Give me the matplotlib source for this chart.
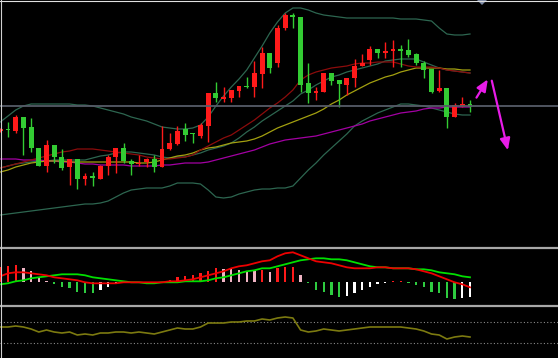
import numpy as np
import matplotlib
matplotlib.use("Agg")
import matplotlib.pyplot as plt
from matplotlib.lines import Line2D
from matplotlib.patches import Polygon

# ---- candle data (price units) ----
opens = [119, 121, 119, 133, 123, 102, 84, 105, 93, 83,
         91, 71, 74, 71, 84, 93, 102, 89, 86, 88,
         91, 83, 101, 106, 121, 117, 114, 124, 157, 151,
         152, 159, 164, 163, 176, 197, 187, 222, 235, 233,
         167, 157, 158, 177, 170, 165, 172, 184, 190, 201,
         197, 199, 201, 200, 196, 187, 181, 159, 162, 133,
         143, 146]
closes = [121, 120, 133, 122, 102, 84, 105, 93, 82, 91,
          71, 74, 72, 84, 93, 102, 89, 86, 87, 91,
          83, 101, 107, 119, 115, 116, 125, 157, 152, 153,
          160, 164, 163, 177, 197, 182, 222, 235, 233, 165,
          157, 159, 177, 169, 166, 172, 184, 187, 201, 197,
          199, 201, 199, 195, 187, 180, 158, 162, 133, 145,
          146, 143]
highs = [122, 128, 135, 133, 132, 102, 110, 105, 101, 91,
         91, 77, 78, 85, 95, 102, 107, 91, 95, 92,
         95, 124, 117, 124, 127, 117, 127, 157, 168, 163,
         160, 164, 173, 189, 203, 197, 225, 237, 237, 233,
         187, 163, 177, 177, 170, 172, 191, 196, 204, 201,
         208, 210, 205, 211, 197, 189, 181, 180, 162, 147,
         153, 150]
lows = [118, 113, 117, 95, 98, 84, 78, 87, 80, 65,
        61, 65, 64, 71, 75, 77, 87, 75, 84, 83,
        78, 83, 100, 105, 109, 107, 112, 108, 148, 148,
        148, 153, 162, 153, 162, 177, 183, 220, 222, 158,
        147, 150, 158, 165, 143, 155, 163, 184, 185, 192,
        192, 183, 183, 193, 185, 172, 157, 158, 122, 133,
        143, 138]

# ---- bollinger bands ----
boll_upper = [128, 134, 140, 144, 146, 146, 146, 146, 146, 146,
              145, 145, 144, 142, 140, 138, 136, 133, 131, 129,
              126, 123, 122, 121, 121, 122, 125, 133, 144, 154,
              163, 171, 180, 192, 204, 217, 228, 237, 242, 242,
              240, 237, 235, 234, 233, 232, 232, 232, 232, 232,
              232, 232, 231, 231, 231, 230, 229, 222, 216, 215,
              215, 216]
boll_mid = [82, 84, 86, 87, 88, 89, 89, 90, 90, 90,
            90, 90, 92, 94, 95, 97, 98, 98, 97, 96,
            95, 93, 92, 93, 93, 95, 97, 100, 102, 104,
            107, 112, 118, 123, 129, 134, 139, 144, 149, 156,
            160, 165, 169, 173, 175, 178, 180, 182, 184, 186,
            189, 190, 191, 191, 191, 188, 185, 182, 180, 179,
            178, 177]
boll_lower = [35, 36, 37, 38, 39, 40, 41, 42, 43, 44,
              45, 46, 46, 47, 49, 53, 57, 60, 61, 62,
              62, 62, 64, 67, 67, 67, 66, 60, 53, 52,
              53, 56, 58, 60, 61, 61, 62, 62, 64, 72,
              80, 87, 95, 102, 109, 116, 124, 129, 133, 137,
              140, 143, 146, 146, 145, 144, 142, 140, 138, 136,
              135, 135]

# ---- moving averages ----
ma_red = [82, 84, 86, 88, 90, 92, 94, 96, 98, 99,
          101, 101, 101, 100, 99, 98, 97, 96, 95, 93,
          92, 91, 91, 92, 93, 95, 100, 104, 108, 112,
          115, 120, 125, 130, 136, 142, 147, 153, 160, 170,
          175, 178, 180, 182, 183, 184, 186, 187, 187, 188,
          188, 188, 186, 184, 183, 183, 183, 182, 180, 179,
          178, 177]
ma_yellow = [78, 80, 83, 85, 87, 88, 89, 89, 89, 88,
             88, 88, 88, 88, 88, 88, 88, 88, 87, 87,
             88, 90, 92, 94, 95, 97, 100, 102, 103, 105,
             107, 108, 109, 111, 114, 118, 122, 125, 128, 131,
             134, 137, 141, 146, 150, 155, 159, 163, 167, 170,
             173, 175, 178, 180, 182, 182, 182, 182, 181, 181,
             180, 180]
ma_magenta = [91, 91, 91, 90, 90, 90, 89, 89, 88, 88,
              87, 86, 86, 85, 85, 85, 85, 84, 84, 84,
              84, 85, 85, 86, 87, 87, 87, 88, 90, 92,
              94, 96, 98, 100, 103, 106, 108, 110, 111, 112,
              113, 114, 116, 118, 120, 122, 124, 126, 129, 131,
              133, 135, 137, 138, 139, 141, 142, 142, 143, 143,
              143, 143]
ref_level = 144

# ---- MACD ----
macd_hist = [15, 16, 17, 14, 11, 5, 1, -2, -5, -6,
             -10, -10.5, -11, -8, -5, -2, -1, -0.5, 0, 0,
             0, 0, 2, 5, 6, 7, 9, 11, 14, 13.5,
             13, 12, 11.5, 11, 12, 10, 14, 15, 15.5, 7,
             -1, -8, -10, -13, -15, -14, -11, -8, -5, -2,
             -1, 1, 1.2, -1, -3, -5, -10, -11, -16, -17,
             -16, -15]
macd_dif = [6, 9, 10, 10, 9, 8, 7, 5, 4, 3,
            2, 0, -1, -1, -1, -1, 0, 0, 0, 0,
            0, 0, 1, 1, 2, 3, 5, 7, 9, 11,
            14, 16, 17, 19, 21, 22, 26, 29, 30, 27,
            24, 21, 20, 19, 17, 15, 14, 14, 14, 15,
            15, 14, 14, 14, 13, 11, 9, 6, 3, 0,
            -2, -5]
macd_dea = [-2, -1, 1, 2, 4, 5, 6, 7, 8, 8,
            8, 7, 5, 4, 3, 2, 1, 0, 0, -1,
            -1, 0, 0, 0, 1, 1, 1, 2, 4, 5,
            7, 9, 11, 12, 14, 14, 16, 18, 20, 22,
            23, 24, 24, 23, 23, 22, 20, 18, 16, 15,
            15, 14, 14, 14, 13, 13, 12, 10, 9, 8,
            6, 5]

# ---- lower oscillator ----
osc = [31, 31, 32, 31, 29, 26, 28, 26, 25, 26,
       23, 24, 23, 25, 25, 26, 26, 25, 26, 25,
       24, 26, 28, 30, 29, 29, 31, 35, 35, 35,
       36, 36, 37, 37, 39, 38, 40, 41, 40, 28,
       26, 27, 29, 28, 27, 28, 29, 30, 31, 31,
       31, 31, 31, 30, 29, 27, 24, 23, 19, 21,
       22, 21]
osc_levels = [36, 15]

UP = "#ff1a1a"
DOWN = "#33cc33"
BOLL = "#2d6650"

W, H = 558, 358
fig = plt.figure(figsize=(W / 100, H / 100), dpi=100, facecolor="black")

x = np.arange(len(opens))
xlim = (-0.3 / 7.7, (W - 0.3) / 7.7)

# main price panel
ax = fig.add_axes([0, (H - 246) / H, 1, 246 / H])
ax.set_facecolor("black")
ax.set_xlim(*xlim)
ax.set_ylim(4, 250)
ax.set_axis_off()

for band in (boll_upper, boll_mid, boll_lower):
    ax.plot(x, band, color=BOLL, lw=0.9, zorder=2)
ax.plot(x, ma_magenta, color="#a300a3", lw=0.9, zorder=2)
ax.plot(x, ma_yellow, color="#a3a010", lw=0.9, zorder=2)
ax.plot(x, ma_red, color="#8c0c0c", lw=0.9, zorder=2)

o = np.array(opens, float)
c = np.array(closes, float)
up = c >= o
cols = np.where(up, UP, DOWN)
body_lo = np.minimum(o, c)
body_h = np.maximum(np.abs(c - o), 1.2)
ax.vlines(x, lows, highs, colors=cols, lw=1.0, zorder=3)
ax.bar(x, body_h, bottom=body_lo, width=0.64, color=cols, linewidth=0, zorder=4)

ax.axhline(ref_level, color="#565b68", lw=1.3, zorder=5)

# magenta arrows
arrow_kw = dict(arrowstyle="-|>,head_length=0.7,head_width=0.3", color="#e81ce8", lw=1.6)
ax.annotate("", xy=(63.5, 173), xytext=(61.65, 150), arrowprops=arrow_kw, zorder=6)
ax.annotate("", xy=(66.0, 97), xytext=(63.75, 172), arrowprops=arrow_kw, zorder=6)

# MACD panel
axm = fig.add_axes([0, 54 / H, 1, 55 / H])
axm.set_facecolor("black")
axm.set_xlim(*xlim)
axm.set_ylim(-21.7, 33.3)
axm.set_axis_off()

hcols = []
prev = None
for h in macd_hist:
    if h >= 0:
        col = UP if (prev is None or h >= prev) else "#f0b4c4"
    else:
        col = "#2ecc40" if (prev is None or h <= prev) else "white"
    hcols.append(col)
    prev = h
axm.bar(x, macd_hist, width=0.3, color=hcols, linewidth=0, zorder=2)
axm.plot(x, macd_dea, color="#00e000", lw=1.3, zorder=3)
axm.plot(x, macd_dif, color="#ee0000", lw=1.3, zorder=3)

# lower panel
axo = fig.add_axes([0, 0, 1, 51 / H])
axo.set_facecolor("black")
axo.set_xlim(*xlim)
axo.set_ylim(0, 51)
axo.set_axis_off()
for lvl in osc_levels:
    axo.axhline(lvl, color="#8a8a8a", lw=0.8, ls=(0, (1, 2)))
axo.plot(x, osc, color="#7c7a10", lw=1.2)

# panel separators and frame
for yp in (247.5, 305.5):
    fig.add_artist(Line2D([0, 1], [1 - yp / H] * 2, transform=fig.transFigure,
                          color="#a8a8a8", lw=1.6))
fig.add_artist(Line2D([0, 1], [1 - 0.5 / H] * 2, transform=fig.transFigure,
                      color="#e0e0e0", lw=0.8))
fig.add_artist(Line2D([0.5 / W] * 2, [0, 1], transform=fig.transFigure,
                      color="#d0d0d0", lw=0.8))
fig.add_artist(Polygon([[477 / W, 1], [487 / W, 1], [482 / W, 1 - 5 / H]],
                       closed=True, transform=fig.transFigure,
                       color="#7d8aa6", lw=0))

fig.savefig("out.png", dpi=100, facecolor="black")
